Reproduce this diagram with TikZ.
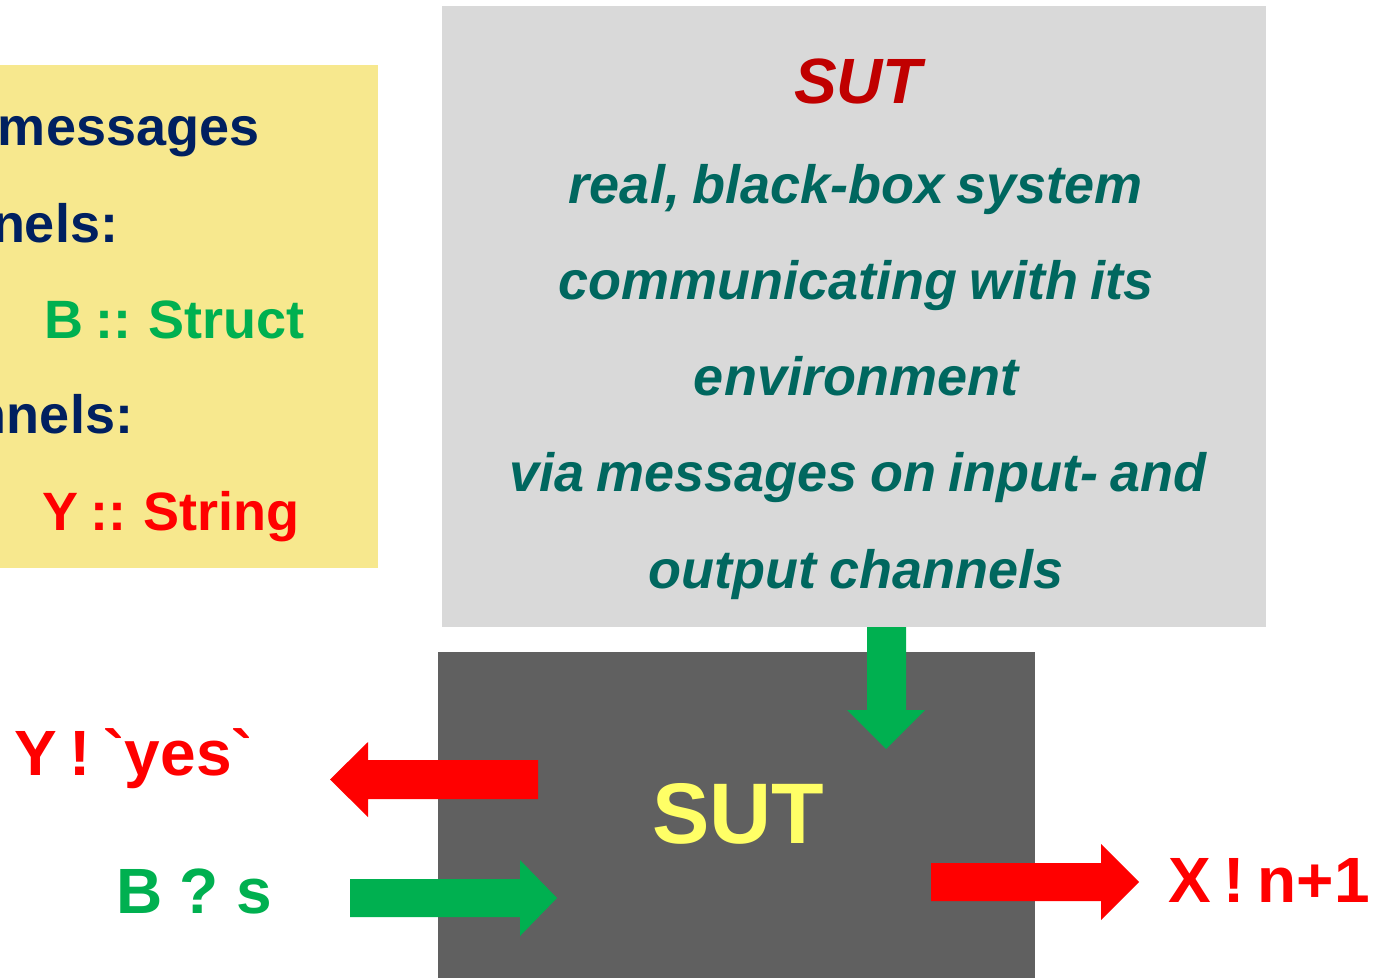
\documentclass[tikz,border=0pt]{standalone}
\usepackage{fontspec}
\setmainfont{Liberation Sans}[Ligatures=TeXOff]
\definecolor{padyellow}{RGB}{247,232,142}
\definecolor{speclight}{RGB}{217,217,217}
\definecolor{sutdark}{RGB}{96,96,96}
\definecolor{navytext}{RGB}{0,32,96}
\definecolor{okgreen}{RGB}{0,176,80}
\definecolor{outred}{RGB}{255,0,0}
\definecolor{titlered}{RGB}{192,0,0}
\definecolor{tealtext}{RGB}{0,103,95}
\definecolor{sutyellow}{RGB}{255,255,102}
% font size in px-like points with a chosen inter-word space
\newcommand\pxsize[2]{\fontsize{#1}{#1}\selectfont\spaceskip=#2em\relax}
\begin{document}
\begin{tikzpicture}[x=1pt,y=-1pt,
  panel/.style={inner sep=0pt,outer sep=0pt,draw=none,anchor=north west},
  txt/.style={inner sep=0pt,outer sep=0pt,anchor=base west,font=\bfseries\pxsize{54}{0.23}},
  speclines/.style={inner sep=0pt,outer sep=0pt,anchor=base,text=tealtext,font=\bfseries\itshape\pxsize{54}{0.23}},
  msg/.style={inner sep=0pt,outer sep=0pt,anchor=base west,font=\bfseries\pxsize{64}{0.2}},
  inarrow/.style={fill=okgreen,draw=none},
  outarrow/.style={fill=outred,draw=none}]
\useasboundingbox (0,0) rectangle (1378,977);

% channel declarations
\node[panel,fill=padyellow,minimum width=400pt,minimum height=503pt] (decl) at (-22,65) {};
\node[txt,text=navytext] (l1) at (-2,145) {messages};
\node[txt,text=navytext] (l2) at (-8,242) {nels:};
\node[txt,text=okgreen]  (l3) at (44,338) {B :: Struct};
\node[txt,text=navytext] (l4) at (-26,433) {nnels:};
\node[txt,text=outred]   (l5) at (42,530) {Y :: String};

% description of the system under test
\node[panel,fill=speclight,minimum width=824pt,minimum height=621pt] (spec) at (442,6) {};
\node[inner sep=0pt,anchor=base,text=titlered,font=\bfseries\itshape\pxsize{64}{0.25}] (title) at (858,103) {SUT};
\node[speclines] (t1) at (856,203) {real, black-box system};
\node[speclines] (t2) at (856,299) {communicating with its};
\node[speclines] (t3) at (856,395) {environment};
\node[speclines] (t4) at (858,491) {via messages on input- and};
\node[speclines] (t5) at (856,588) {output channels};

% the black box
\node[panel,fill=sutdark,minimum width=597pt,minimum height=340pt] (sut) at (438,652) {};
\node[inner sep=0pt,anchor=base,text=sutyellow,font=\bfseries\pxsize{86}{0.25}] (sutlabel) at (738,843) {SUT};

% arrows
\fill[inarrow] (867,627) -- (867,710) -- (847,710) -- (886,749) -- (925,710) -- (906,710) -- (906,627) -- cycle;
\fill[outarrow] (538,760) -- (368,760) -- (368,742) -- (330,779.5) -- (368,817) -- (368,799) -- (538,799) -- cycle;
\fill[inarrow] (350,879) -- (520,879) -- (520,860) -- (557,898) -- (520,936) -- (520,917) -- (350,917) -- cycle;
\fill[outarrow] (931,863) -- (1101,863) -- (1101,844) -- (1139,882) -- (1101,920) -- (1101,901) -- (931,901) -- cycle;

% message labels
\node[msg,text=outred]  (ysend) at (14,775) {Y ! `yes`};
\node[msg,text=okgreen,font=\bfseries\pxsize{64}{0.278}] (brecv) at (116,913) {B ? s};
\node[msg,text=outred]  (xsend) at (1168,902) {X ! n+1};
\end{tikzpicture}
\end{document}
